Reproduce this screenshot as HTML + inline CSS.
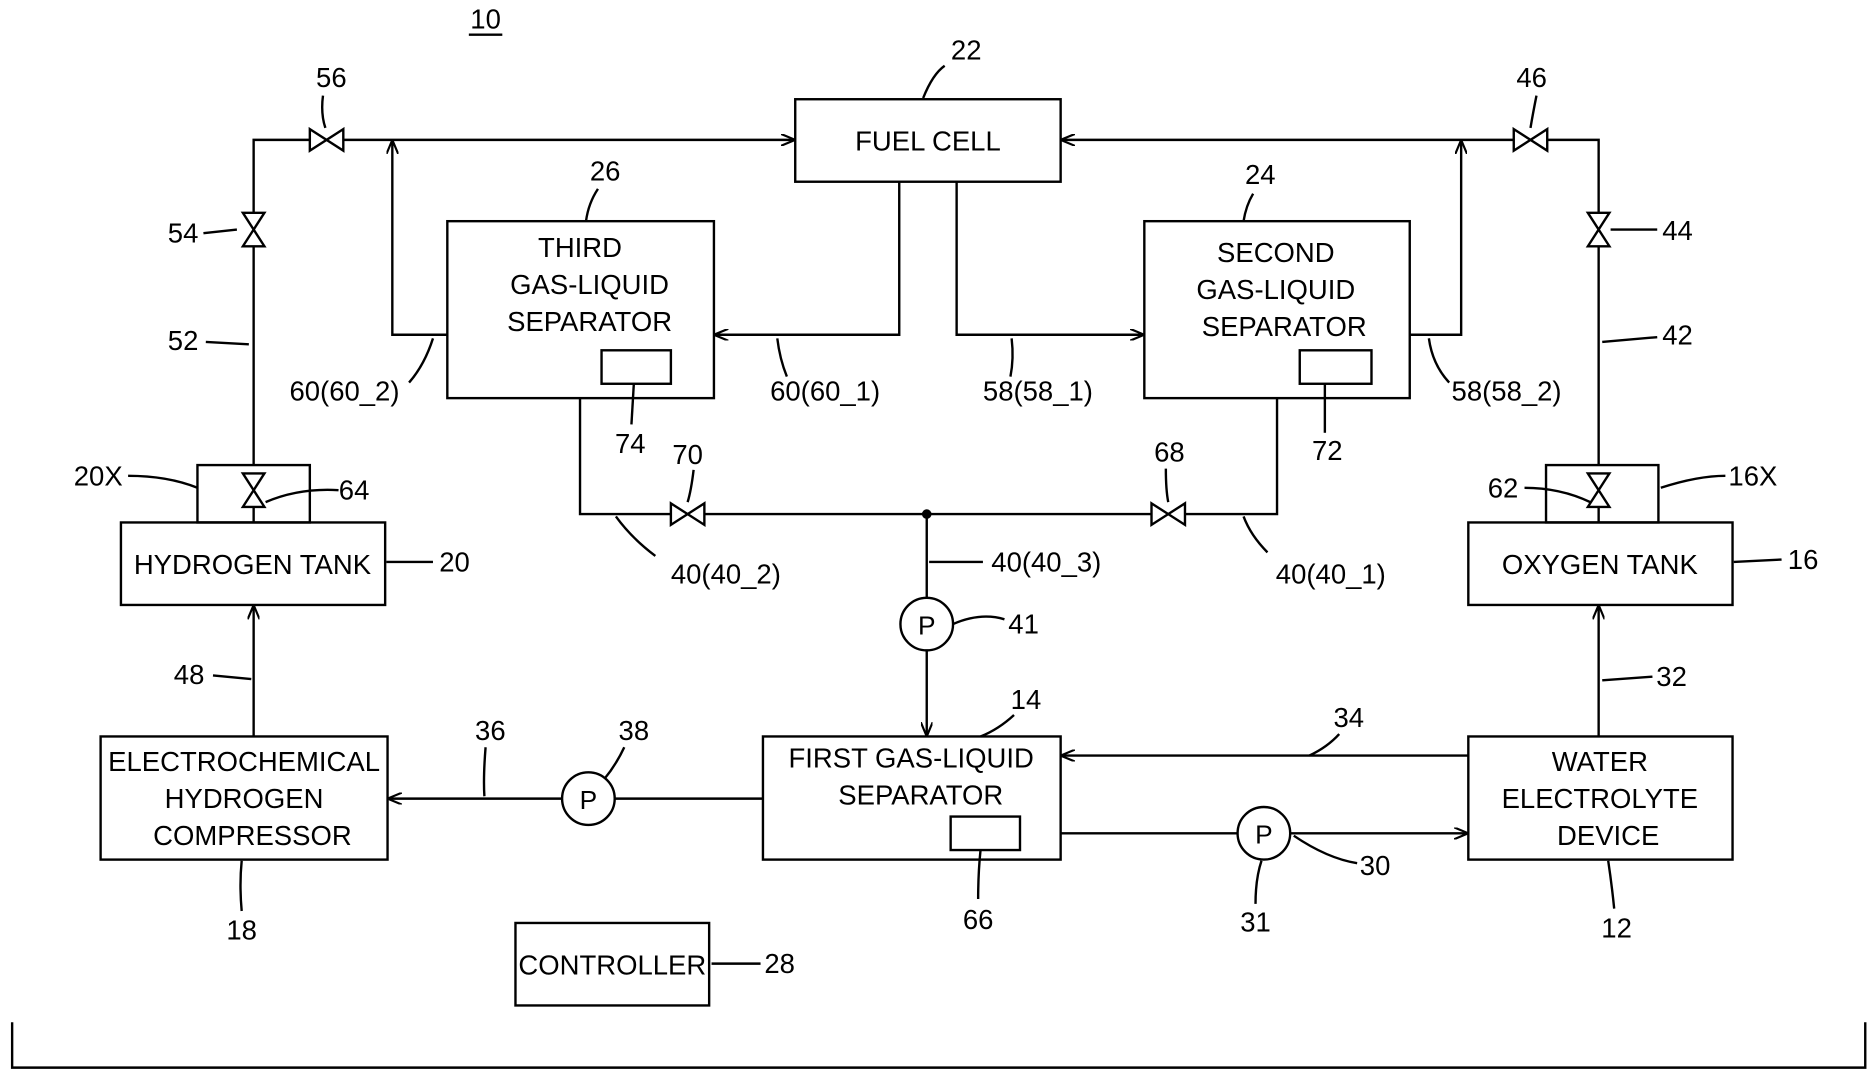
<!DOCTYPE html>
<html><head><meta charset="utf-8"><style>
html,body{margin:0;padding:0;background:#fff;}
svg{display:block;}
text{font-family:"Liberation Sans",sans-serif;font-size:23px;fill:#000;text-anchor:middle;dominant-baseline:central;}
</style></head><body>
<svg width="1875" height="1076" viewBox="0 0 1568 900" xmlns="http://www.w3.org/2000/svg">
<defs>
<marker id="a" viewBox="0 0 12 10" refX="12" refY="5" markerWidth="12" markerHeight="10" markerUnits="userSpaceOnUse" orient="auto"><path d="M0,0 L12,5 L0,10" fill="none" stroke="#000" stroke-width="1.8"/></marker>
<g id="vh"><path d="M-14,-9 L14,9 L14,-9 L-14,9 Z" fill="#fff" stroke="#000" stroke-width="2"/></g>
<g id="vv"><path d="M-9,-14 L9,14 L-9,14 L9,-14 Z" fill="#fff" stroke="#000" stroke-width="2"/></g>
</defs>
<g fill="none" stroke="#000" stroke-width="2">
<rect x="665" y="83" width="222" height="69"/>
<rect x="374" y="185" width="223" height="148"/>
<rect x="503" y="293" width="58" height="28"/>
<rect x="957" y="185" width="222" height="148"/>
<rect x="1087" y="293" width="60" height="28"/>
<rect x="101" y="437" width="221" height="69"/>
<rect x="165" y="389" width="94" height="48"/>
<rect x="1228" y="437" width="221" height="69"/>
<rect x="1293" y="389" width="94" height="48"/>
<rect x="84" y="616" width="240" height="103"/>
<rect x="638" y="616" width="249" height="103"/>
<rect x="795" y="683" width="58" height="28"/>
<rect x="1228" y="616" width="221" height="103"/>
<rect x="431" y="772" width="162" height="69"/>
<path d="M10,855 L10,893 L1560,893 L1560,855"/>
<path d="M212,389 L212,117 L665,117" marker-end="url(#a)"/>
<path d="M374,280 L328,280 L328,117" marker-end="url(#a)"/>
<path d="M752,152 L752,280 L597,280" marker-end="url(#a)"/>
<path d="M800,152 L800,280 L957,280" marker-end="url(#a)"/>
<path d="M1179,280 L1222,280 L1222,117" marker-end="url(#a)"/>
<path d="M1337,389 L1337,117 L887,117" marker-end="url(#a)"/>
<path d="M485,333 L485,430 L1068,430 L1068,333"/>
<path d="M775,430 L775,500"/>
<path d="M775,544 L775,616" marker-end="url(#a)"/>
<path d="M212,616 L212,506" marker-end="url(#a)"/>
<path d="M1337,616 L1337,506" marker-end="url(#a)"/>
<path d="M638,668 L324,668" marker-end="url(#a)"/>
<path d="M1228,632 L887,632" marker-end="url(#a)"/>
<path d="M887,697 L1228,697" marker-end="url(#a)"/>
<line x1="212" y1="400" x2="212" y2="437"/>
<line x1="1337" y1="400" x2="1337" y2="437"/>
<path d="M790,55 Q780,62 772,82"/>
<path d="M500,158 Q492,170 490,185"/>
<path d="M1048,162 Q1042,172 1040,185"/>
<path d="M270,80 Q268,95 272,107"/>
<path d="M170,195 L198,192"/>
<path d="M172,286 L208,288"/>
<path d="M342,320 Q355,305 362,283"/>
<path d="M658,315 Q652,300 650,283"/>
<path d="M845,315 Q848,300 846,283"/>
<path d="M1212,320 Q1198,305 1195,283"/>
<path d="M528,355 L530,321"/>
<path d="M1108,362 L1108,321"/>
<path d="M580,393 Q578,410 575,420"/>
<path d="M975,392 Q975,410 977,420"/>
<path d="M548,465 Q528,450 515,432"/>
<path d="M822,470 L777,470"/>
<path d="M1060,462 Q1046,448 1040,432"/>
<path d="M797,522 Q820,512 840,518"/>
<path d="M107,398 Q140,398 165,408"/>
<path d="M283,410 Q250,408 222,420"/>
<path d="M323,470 L362,470"/>
<path d="M1275,408 Q1305,408 1330,420"/>
<path d="M1389,408 Q1420,398 1443,398"/>
<path d="M1450,470 L1490,468"/>
<path d="M1340,286 L1386,282"/>
<path d="M1347,192 L1386,192"/>
<path d="M1285,80 Q1282,95 1280,107"/>
<path d="M178,565 L210,568"/>
<path d="M1340,569 L1382,566"/>
<path d="M406,625 Q404,650 405,666"/>
<path d="M522,625 Q515,640 505,652"/>
<path d="M848,598 Q835,610 820,616"/>
<path d="M1120,614 Q1110,625 1095,632"/>
<path d="M1082,699 Q1110,718 1135,722"/>
<path d="M1050,756 Q1050,735 1055,720"/>
<path d="M818,752 Q818,730 820,711"/>
<path d="M202,762 Q200,740 202,720"/>
<path d="M1350,760 Q1348,740 1345,720"/>
<path d="M595,806 L636,806"/>
<line x1="392" y1="29" x2="420" y2="29"/>
</g>
<g fill="#fff" stroke="#000" stroke-width="2">
<circle cx="775" cy="522" r="22"/>
<circle cx="492" cy="668" r="22"/>
<circle cx="1057" cy="697" r="22"/>
</g>
<circle cx="775" cy="430" r="4" fill="#000"/>
<use href="#vh" x="273" y="117"/>
<use href="#vh" x="1280" y="117"/>
<use href="#vh" x="575" y="430"/>
<use href="#vh" x="977" y="430"/>
<use href="#vv" x="212" y="192"/>
<use href="#vv" x="1337" y="192"/>
<use href="#vv" x="212" y="410"/>
<use href="#vv" x="1337" y="410"/>
<text x="406" y="16">10</text>
<text x="776" y="118">FUEL CELL</text>
<text x="485" y="207">THIRD</text>
<text x="493" y="238">GAS-LIQUID</text>
<text x="493" y="269">SEPARATOR</text>
<text x="1067" y="211">SECOND</text>
<text x="1067" y="242">GAS-LIQUID</text>
<text x="1074" y="273">SEPARATOR</text>
<text x="211" y="472">HYDROGEN TANK</text>
<text x="1338" y="472">OXYGEN TANK</text>
<text x="204" y="637">ELECTROCHEMICAL</text>
<text x="204" y="668">HYDROGEN</text>
<text x="211" y="699">COMPRESSOR</text>
<text x="762" y="634">FIRST GAS-LIQUID</text>
<text x="770" y="665">SEPARATOR</text>
<text x="1338" y="637">WATER</text>
<text x="1338" y="668">ELECTROLYTE</text>
<text x="1345" y="699">DEVICE</text>
<text x="512" y="807">CONTROLLER</text>
<text x="775" y="523" style="font-size:22px">P</text>
<text x="492" y="669" style="font-size:22px">P</text>
<text x="1057" y="698" style="font-size:22px">P</text>
<text x="808" y="42">22</text>
<text x="506" y="143">26</text>
<text x="1054" y="146">24</text>
<text x="277" y="65">56</text>
<text x="1281" y="65">46</text>
<text x="153" y="195">54</text>
<text x="1403" y="193">44</text>
<text x="153" y="285">52</text>
<text x="1403" y="280">42</text>
<text x="288" y="327">60(60_2)</text>
<text x="690" y="327">60(60_1)</text>
<text x="868" y="327">58(58_1)</text>
<text x="1260" y="327">58(58_2)</text>
<text x="527" y="371">74</text>
<text x="1110" y="377">72</text>
<text x="575" y="380">70</text>
<text x="978" y="378">68</text>
<text x="607" y="480">40(40_2)</text>
<text x="875" y="470">40(40_3)</text>
<text x="1113" y="480">40(40_1)</text>
<text x="856" y="522">41</text>
<text x="82" y="398">20X</text>
<text x="296" y="410">64</text>
<text x="380" y="470">20</text>
<text x="1257" y="408">62</text>
<text x="1466" y="398">16X</text>
<text x="1508" y="468">16</text>
<text x="158" y="564">48</text>
<text x="1398" y="566">32</text>
<text x="410" y="611">36</text>
<text x="530" y="611">38</text>
<text x="858" y="585">14</text>
<text x="1128" y="600">34</text>
<text x="1150" y="724">30</text>
<text x="1050" y="771">31</text>
<text x="818" y="769">66</text>
<text x="202" y="778">18</text>
<text x="1352" y="776">12</text>
<text x="652" y="806">28</text>
</svg>
</body></html>
